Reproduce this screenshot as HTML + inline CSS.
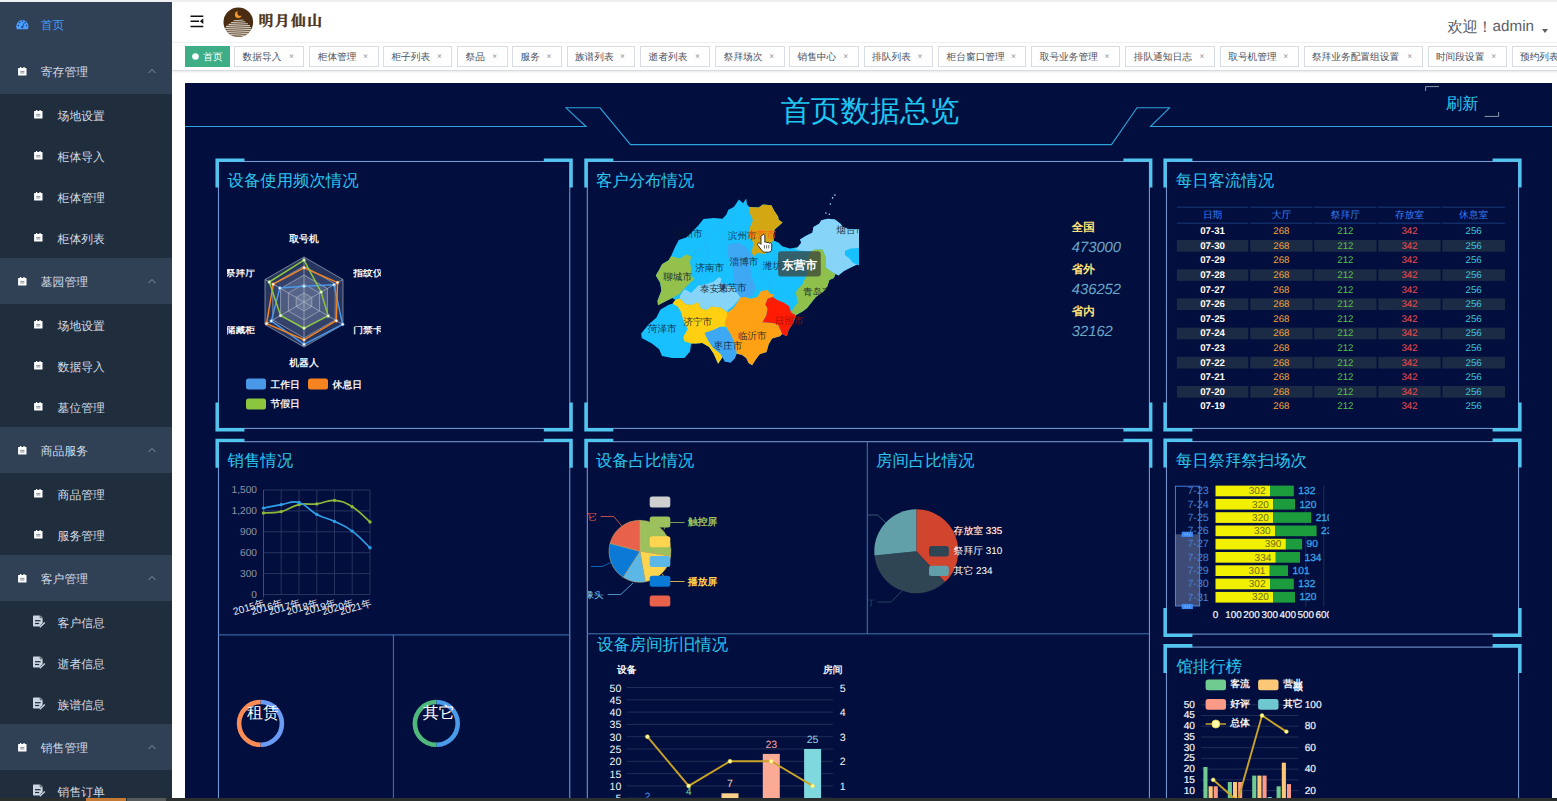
<!DOCTYPE html><html><head><meta charset="utf-8"><title>首页数据总览</title><style>
*{box-sizing:border-box;margin:0;padding:0}
html,body{text-rendering:geometricPrecision;width:1557px;height:801px;overflow:hidden;background:#fff;font-family:"Liberation Sans",sans-serif;}
#root{position:relative;width:1557px;height:801px;overflow:hidden;background:#fff}
.abs{position:absolute;white-space:nowrap;overflow:visible}
.sb{position:absolute;left:0;top:1.5px;width:172.3px;height:797px;background:#304156;overflow:hidden}
.sbi{position:absolute;left:0;width:172.3px;color:#d3dbe6;font-size:11.8px;white-space:nowrap}
.sbi span{position:absolute;top:50%;transform:translateY(-50%);line-height:1;margin-top:2.4px}
.sub{background:#1f2d3d}
.tag{position:absolute;top:46px;height:21px;border:1px solid #d8dce5;background:#fff;color:#495060;font-size:9.7px;line-height:21.4px;padding-left:7.3px;white-space:nowrap;overflow:hidden}
.tag i{position:absolute;right:9.6px;top:-0.6px;font-style:normal;color:#8d929c;font-size:8.4px}
.ttl{position:absolute;color:#2cc6ee;font-size:16.2px;line-height:1;white-space:nowrap}
.lbl{position:absolute;white-space:nowrap;line-height:1}
svg text{font-family:"Liberation Sans",sans-serif}
</style></head><body><div id="root">
<div class="abs" style="left:0;top:0;width:1557px;height:1.5px;background:#eeeff0"></div>
<div class="sb">
<div class="sbi" style="top:0.6px;height:45.7px;color:#409eff">
<svg class="abs" style="left:16.0px;top:17.1px" width="13" height="11" viewBox="0 0 13 11"><path d="M0.2 7.6a6.1 6.6 0 0 1 12.3 0c0 1-0.3 1.9-0.7 2.6h-10.9c-0.4-0.7-0.7-1.6-0.7-2.6z" fill="#4a9dfb"/><circle cx="2.3" cy="6.6" r="0.75" fill="#14438a"/><circle cx="3.6" cy="3.5" r="0.75" fill="#14438a"/><circle cx="6.4" cy="2.3" r="0.75" fill="#14438a"/><circle cx="9.3" cy="3.6" r="0.75" fill="#14438a"/><circle cx="10.5" cy="6.6" r="0.75" fill="#14438a"/><path d="M6.3 8.6l1.9-4.6" stroke="#14438a" stroke-width="0.9"/><circle cx="6.3" cy="8.1" r="1.1" fill="#14438a"/></svg>
<span style="left:40.8px;margin-top:1.3px">首页</span>
</div>
<div class="sbi" style="top:46.3px;height:45.7px;color:#d3dbe6">
<svg class="abs" style="left:17.7px;top:19.2px" width="9" height="9" viewBox="0 0 9 9"><path d="M0.4 0.9h1.6v-0.9h1.3v0.9h2.1v-0.9h1.3v0.9h1.5a0.3 0.3 0 0 1 0.3 0.3v7a0.3 0.3 0 0 1-0.3 0.3h-7.8a0.3 0.3 0 0 1-0.3-0.3v-7a0.3 0.3 0 0 1 0.3-0.3z" fill="#fff"/><rect x="2.2" y="3.9" width="4.2" height="0.9" fill="#7d8794"/><rect x="2.2" y="5.5" width="4.2" height="0.9" fill="#7d8794"/></svg>
<span style="left:40.8px;margin-top:2.6px">寄存管理</span>
<svg class="abs" style="left:147.5px;top:20.4px" width="8" height="6" viewBox="0 0 8 6"><path d="M0.6 5l3.4-3.6l3.4 3.6" fill="none" stroke="#8d99a9" stroke-width="0.9"/></svg>
</div>
<div class="sbi sub" style="top:92.0px;height:41.7px;color:#d3dbe6">
<svg class="abs" style="left:33.9px;top:16.2px" width="9" height="9" viewBox="0 0 9 9"><path d="M0.4 0.9h1.6v-0.9h1.3v0.9h2.1v-0.9h1.3v0.9h1.5a0.3 0.3 0 0 1 0.3 0.3v7a0.3 0.3 0 0 1-0.3 0.3h-7.8a0.3 0.3 0 0 1-0.3-0.3v-7a0.3 0.3 0 0 1 0.3-0.3z" fill="#fff"/><rect x="2.2" y="3.9" width="4.2" height="0.9" fill="#7d8794"/><rect x="2.2" y="5.5" width="4.2" height="0.9" fill="#7d8794"/></svg>
<span style="left:57.6px">场地设置</span>
</div>
<div class="sbi sub" style="top:133.1px;height:41.7px;color:#d3dbe6">
<svg class="abs" style="left:33.9px;top:16.2px" width="9" height="9" viewBox="0 0 9 9"><path d="M0.4 0.9h1.6v-0.9h1.3v0.9h2.1v-0.9h1.3v0.9h1.5a0.3 0.3 0 0 1 0.3 0.3v7a0.3 0.3 0 0 1-0.3 0.3h-7.8a0.3 0.3 0 0 1-0.3-0.3v-7a0.3 0.3 0 0 1 0.3-0.3z" fill="#fff"/><rect x="2.2" y="3.9" width="4.2" height="0.9" fill="#7d8794"/><rect x="2.2" y="5.5" width="4.2" height="0.9" fill="#7d8794"/></svg>
<span style="left:57.6px">柜体导入</span>
</div>
<div class="sbi sub" style="top:174.2px;height:41.7px;color:#d3dbe6">
<svg class="abs" style="left:33.9px;top:16.2px" width="9" height="9" viewBox="0 0 9 9"><path d="M0.4 0.9h1.6v-0.9h1.3v0.9h2.1v-0.9h1.3v0.9h1.5a0.3 0.3 0 0 1 0.3 0.3v7a0.3 0.3 0 0 1-0.3 0.3h-7.8a0.3 0.3 0 0 1-0.3-0.3v-7a0.3 0.3 0 0 1 0.3-0.3z" fill="#fff"/><rect x="2.2" y="3.9" width="4.2" height="0.9" fill="#7d8794"/><rect x="2.2" y="5.5" width="4.2" height="0.9" fill="#7d8794"/></svg>
<span style="left:57.6px">柜体管理</span>
</div>
<div class="sbi sub" style="top:215.3px;height:41.7px;color:#d3dbe6">
<svg class="abs" style="left:33.9px;top:16.2px" width="9" height="9" viewBox="0 0 9 9"><path d="M0.4 0.9h1.6v-0.9h1.3v0.9h2.1v-0.9h1.3v0.9h1.5a0.3 0.3 0 0 1 0.3 0.3v7a0.3 0.3 0 0 1-0.3 0.3h-7.8a0.3 0.3 0 0 1-0.3-0.3v-7a0.3 0.3 0 0 1 0.3-0.3z" fill="#fff"/><rect x="2.2" y="3.9" width="4.2" height="0.9" fill="#7d8794"/><rect x="2.2" y="5.5" width="4.2" height="0.9" fill="#7d8794"/></svg>
<span style="left:57.6px">柜体列表</span>
</div>
<div class="sbi" style="top:256.4px;height:45.7px;color:#d3dbe6">
<svg class="abs" style="left:17.7px;top:19.2px" width="9" height="9" viewBox="0 0 9 9"><path d="M0.4 0.9h1.6v-0.9h1.3v0.9h2.1v-0.9h1.3v0.9h1.5a0.3 0.3 0 0 1 0.3 0.3v7a0.3 0.3 0 0 1-0.3 0.3h-7.8a0.3 0.3 0 0 1-0.3-0.3v-7a0.3 0.3 0 0 1 0.3-0.3z" fill="#fff"/><rect x="2.2" y="3.9" width="4.2" height="0.9" fill="#7d8794"/><rect x="2.2" y="5.5" width="4.2" height="0.9" fill="#7d8794"/></svg>
<span style="left:40.8px;margin-top:2.6px">墓园管理</span>
<svg class="abs" style="left:147.5px;top:20.4px" width="8" height="6" viewBox="0 0 8 6"><path d="M0.6 5l3.4-3.6l3.4 3.6" fill="none" stroke="#8d99a9" stroke-width="0.9"/></svg>
</div>
<div class="sbi sub" style="top:302.1px;height:41.7px;color:#d3dbe6">
<svg class="abs" style="left:33.9px;top:16.2px" width="9" height="9" viewBox="0 0 9 9"><path d="M0.4 0.9h1.6v-0.9h1.3v0.9h2.1v-0.9h1.3v0.9h1.5a0.3 0.3 0 0 1 0.3 0.3v7a0.3 0.3 0 0 1-0.3 0.3h-7.8a0.3 0.3 0 0 1-0.3-0.3v-7a0.3 0.3 0 0 1 0.3-0.3z" fill="#fff"/><rect x="2.2" y="3.9" width="4.2" height="0.9" fill="#7d8794"/><rect x="2.2" y="5.5" width="4.2" height="0.9" fill="#7d8794"/></svg>
<span style="left:57.6px">场地设置</span>
</div>
<div class="sbi sub" style="top:343.2px;height:41.7px;color:#d3dbe6">
<svg class="abs" style="left:33.9px;top:16.2px" width="9" height="9" viewBox="0 0 9 9"><path d="M0.4 0.9h1.6v-0.9h1.3v0.9h2.1v-0.9h1.3v0.9h1.5a0.3 0.3 0 0 1 0.3 0.3v7a0.3 0.3 0 0 1-0.3 0.3h-7.8a0.3 0.3 0 0 1-0.3-0.3v-7a0.3 0.3 0 0 1 0.3-0.3z" fill="#fff"/><rect x="2.2" y="3.9" width="4.2" height="0.9" fill="#7d8794"/><rect x="2.2" y="5.5" width="4.2" height="0.9" fill="#7d8794"/></svg>
<span style="left:57.6px">数据导入</span>
</div>
<div class="sbi sub" style="top:384.3px;height:41.7px;color:#d3dbe6">
<svg class="abs" style="left:33.9px;top:16.2px" width="9" height="9" viewBox="0 0 9 9"><path d="M0.4 0.9h1.6v-0.9h1.3v0.9h2.1v-0.9h1.3v0.9h1.5a0.3 0.3 0 0 1 0.3 0.3v7a0.3 0.3 0 0 1-0.3 0.3h-7.8a0.3 0.3 0 0 1-0.3-0.3v-7a0.3 0.3 0 0 1 0.3-0.3z" fill="#fff"/><rect x="2.2" y="3.9" width="4.2" height="0.9" fill="#7d8794"/><rect x="2.2" y="5.5" width="4.2" height="0.9" fill="#7d8794"/></svg>
<span style="left:57.6px">墓位管理</span>
</div>
<div class="sbi" style="top:425.4px;height:45.7px;color:#d3dbe6">
<svg class="abs" style="left:17.7px;top:19.2px" width="9" height="9" viewBox="0 0 9 9"><path d="M0.4 0.9h1.6v-0.9h1.3v0.9h2.1v-0.9h1.3v0.9h1.5a0.3 0.3 0 0 1 0.3 0.3v7a0.3 0.3 0 0 1-0.3 0.3h-7.8a0.3 0.3 0 0 1-0.3-0.3v-7a0.3 0.3 0 0 1 0.3-0.3z" fill="#fff"/><rect x="2.2" y="3.9" width="4.2" height="0.9" fill="#7d8794"/><rect x="2.2" y="5.5" width="4.2" height="0.9" fill="#7d8794"/></svg>
<span style="left:40.8px;margin-top:2.6px">商品服务</span>
<svg class="abs" style="left:147.5px;top:20.4px" width="8" height="6" viewBox="0 0 8 6"><path d="M0.6 5l3.4-3.6l3.4 3.6" fill="none" stroke="#8d99a9" stroke-width="0.9"/></svg>
</div>
<div class="sbi sub" style="top:471.1px;height:41.7px;color:#d3dbe6">
<svg class="abs" style="left:33.9px;top:16.2px" width="9" height="9" viewBox="0 0 9 9"><path d="M0.4 0.9h1.6v-0.9h1.3v0.9h2.1v-0.9h1.3v0.9h1.5a0.3 0.3 0 0 1 0.3 0.3v7a0.3 0.3 0 0 1-0.3 0.3h-7.8a0.3 0.3 0 0 1-0.3-0.3v-7a0.3 0.3 0 0 1 0.3-0.3z" fill="#fff"/><rect x="2.2" y="3.9" width="4.2" height="0.9" fill="#7d8794"/><rect x="2.2" y="5.5" width="4.2" height="0.9" fill="#7d8794"/></svg>
<span style="left:57.6px">商品管理</span>
</div>
<div class="sbi sub" style="top:512.2px;height:41.7px;color:#d3dbe6">
<svg class="abs" style="left:33.9px;top:16.2px" width="9" height="9" viewBox="0 0 9 9"><path d="M0.4 0.9h1.6v-0.9h1.3v0.9h2.1v-0.9h1.3v0.9h1.5a0.3 0.3 0 0 1 0.3 0.3v7a0.3 0.3 0 0 1-0.3 0.3h-7.8a0.3 0.3 0 0 1-0.3-0.3v-7a0.3 0.3 0 0 1 0.3-0.3z" fill="#fff"/><rect x="2.2" y="3.9" width="4.2" height="0.9" fill="#7d8794"/><rect x="2.2" y="5.5" width="4.2" height="0.9" fill="#7d8794"/></svg>
<span style="left:57.6px">服务管理</span>
</div>
<div class="sbi" style="top:553.3px;height:45.7px;color:#d3dbe6">
<svg class="abs" style="left:17.7px;top:19.2px" width="9" height="9" viewBox="0 0 9 9"><path d="M0.4 0.9h1.6v-0.9h1.3v0.9h2.1v-0.9h1.3v0.9h1.5a0.3 0.3 0 0 1 0.3 0.3v7a0.3 0.3 0 0 1-0.3 0.3h-7.8a0.3 0.3 0 0 1-0.3-0.3v-7a0.3 0.3 0 0 1 0.3-0.3z" fill="#fff"/><rect x="2.2" y="3.9" width="4.2" height="0.9" fill="#7d8794"/><rect x="2.2" y="5.5" width="4.2" height="0.9" fill="#7d8794"/></svg>
<span style="left:40.8px;margin-top:2.6px">客户管理</span>
<svg class="abs" style="left:147.5px;top:20.4px" width="8" height="6" viewBox="0 0 8 6"><path d="M0.6 5l3.4-3.6l3.4 3.6" fill="none" stroke="#8d99a9" stroke-width="0.9"/></svg>
</div>
<div class="sbi sub" style="top:599.0px;height:41.7px;color:#d3dbe6">
<svg class="abs" style="left:32.8px;top:14.4px" width="13" height="13" viewBox="0 0 13 13"><path d="M0.6 0.4h6.6l2.4 2.2v5.2l-3.2 3.6h-5.8a0.6 0.6 0 0 1-0.6-0.6v-9.8a0.6 0.6 0 0 1 0.6-0.6z" fill="#ccd6e2"/><rect x="2" y="5.1" width="5.6" height="1.2" fill="#1f2d3d"/><rect x="2" y="7.9" width="4.2" height="1.2" fill="#1f2d3d"/><path d="M7.2 0.4v2.4h2.4" fill="none" stroke="#1f2d3d" stroke-width="0.7"/><path d="M6.8 12.3l5-4.8" stroke="#ccd6e2" stroke-width="1.4" fill="none"/></svg>
<span style="left:57.6px">客户信息</span>
</div>
<div class="sbi sub" style="top:640.1px;height:41.7px;color:#d3dbe6">
<svg class="abs" style="left:32.8px;top:14.4px" width="13" height="13" viewBox="0 0 13 13"><path d="M0.6 0.4h6.6l2.4 2.2v5.2l-3.2 3.6h-5.8a0.6 0.6 0 0 1-0.6-0.6v-9.8a0.6 0.6 0 0 1 0.6-0.6z" fill="#ccd6e2"/><rect x="2" y="5.1" width="5.6" height="1.2" fill="#1f2d3d"/><rect x="2" y="7.9" width="4.2" height="1.2" fill="#1f2d3d"/><path d="M7.2 0.4v2.4h2.4" fill="none" stroke="#1f2d3d" stroke-width="0.7"/><path d="M6.8 12.3l5-4.8" stroke="#ccd6e2" stroke-width="1.4" fill="none"/></svg>
<span style="left:57.6px">逝者信息</span>
</div>
<div class="sbi sub" style="top:681.2px;height:41.7px;color:#d3dbe6">
<svg class="abs" style="left:32.8px;top:14.4px" width="13" height="13" viewBox="0 0 13 13"><path d="M0.6 0.4h6.6l2.4 2.2v5.2l-3.2 3.6h-5.8a0.6 0.6 0 0 1-0.6-0.6v-9.8a0.6 0.6 0 0 1 0.6-0.6z" fill="#ccd6e2"/><rect x="2" y="5.1" width="5.6" height="1.2" fill="#1f2d3d"/><rect x="2" y="7.9" width="4.2" height="1.2" fill="#1f2d3d"/><path d="M7.2 0.4v2.4h2.4" fill="none" stroke="#1f2d3d" stroke-width="0.7"/><path d="M6.8 12.3l5-4.8" stroke="#ccd6e2" stroke-width="1.4" fill="none"/></svg>
<span style="left:57.6px">族谱信息</span>
</div>
<div class="sbi" style="top:722.3px;height:45.7px;color:#d3dbe6">
<svg class="abs" style="left:17.7px;top:19.2px" width="9" height="9" viewBox="0 0 9 9"><path d="M0.4 0.9h1.6v-0.9h1.3v0.9h2.1v-0.9h1.3v0.9h1.5a0.3 0.3 0 0 1 0.3 0.3v7a0.3 0.3 0 0 1-0.3 0.3h-7.8a0.3 0.3 0 0 1-0.3-0.3v-7a0.3 0.3 0 0 1 0.3-0.3z" fill="#fff"/><rect x="2.2" y="3.9" width="4.2" height="0.9" fill="#7d8794"/><rect x="2.2" y="5.5" width="4.2" height="0.9" fill="#7d8794"/></svg>
<span style="left:40.8px;margin-top:2.6px">销售管理</span>
<svg class="abs" style="left:147.5px;top:20.4px" width="8" height="6" viewBox="0 0 8 6"><path d="M0.6 5l3.4-3.6l3.4 3.6" fill="none" stroke="#8d99a9" stroke-width="0.9"/></svg>
</div>
<div class="sbi sub" style="top:768.0px;height:41.7px;color:#d3dbe6">
<svg class="abs" style="left:32.8px;top:14.4px" width="13" height="13" viewBox="0 0 13 13"><path d="M0.6 0.4h6.6l2.4 2.2v5.2l-3.2 3.6h-5.8a0.6 0.6 0 0 1-0.6-0.6v-9.8a0.6 0.6 0 0 1 0.6-0.6z" fill="#ccd6e2"/><rect x="2" y="5.1" width="5.6" height="1.2" fill="#1f2d3d"/><rect x="2" y="7.9" width="4.2" height="1.2" fill="#1f2d3d"/><path d="M7.2 0.4v2.4h2.4" fill="none" stroke="#1f2d3d" stroke-width="0.7"/><path d="M6.8 12.3l5-4.8" stroke="#ccd6e2" stroke-width="1.4" fill="none"/></svg>
<span style="left:57.6px">销售订单</span>
</div>
</div>
<div class="abs" style="left:172.3px;top:1.5px;width:1384.7px;height:40.8px;background:#fff"></div>
<div class="abs" style="left:172.3px;top:42.2px;width:1384.7px;height:29.2px;background:#fff;border-top:1px solid #eef0f3;border-bottom:1px solid #d8dce5;box-shadow:0 1px 2px rgba(0,0,0,.10)"></div>
<svg class="abs" style="left:189.5px;top:14.5px" width="14" height="13" viewBox="0 0 14 13"><path d="M0.5 1.2h12.8M0.5 6.3h8.6M0.5 11.4h12.8" stroke="#111" stroke-width="1.5" fill="none"/><path d="M13.3 3.6v5.4l-3.4-2.7z" fill="#111"/></svg>
<svg class="abs" style="left:222px;top:5.5px" width="104" height="33" viewBox="0 0 104 33"><defs><clipPath id="lc"><circle cx="16.3" cy="16.2" r="14.8"/></clipPath></defs><circle cx="16.3" cy="16.2" r="14.8" fill="#4a2c12"/><g clip-path="url(#lc)" stroke="#d9d2c6" stroke-linecap="round" fill="none"><path d="M12 14.700000000000001L21 14.1" stroke-width="0.9"/><path d="M9.5 16.5L23 15.899999999999999" stroke-width="1.0"/><path d="M7 18.400000000000002L25.5 17.8" stroke-width="1.1"/><path d="M4.5 20.3L27.5 19.7" stroke-width="1.2"/><path d="M3 22.3L28.5 21.7" stroke-width="1.2"/><path d="M3 24.3L28.5 23.7" stroke-width="1.3"/><path d="M4 26.3L28 25.7" stroke-width="1.3"/><path d="M6 28.3L26.5 27.7" stroke-width="1.2"/><path d="M9 30.2L23 29.599999999999998" stroke-width="1.0"/></g><path d="M19.59 9.54A3.4 3.4 0 1 1 15.83 5.33A2.9 2.9 0 0 0 19.59 9.54z" fill="#f39a2c"/><text x="36.6" y="20.4" font-size="14.8" fill="#4b3522" stroke="#4b3522" stroke-width="0.4" letter-spacing="1.4" style="font-family:'Liberation Serif','Noto Serif CJK SC',serif;font-weight:bold">明月仙山</text></svg>
<div class="lbl" style="left:1447.6px;top:19.6px;font-size:15.4px;letter-spacing:-0.6px;color:#5a5e66;font-family:&quot;Liberation Serif&quot;,serif">欢迎！</div>
<div class="lbl" style="left:1492.6px;top:19.4px;font-size:15.2px;color:#5a5e66">admin</div>
<svg class="abs" style="left:1541.5px;top:29px" width="6" height="4" viewBox="0 0 6 4"><path d="M0 0h6l-3 4z" fill="#5a5e66"/></svg>
<div class="tag" style="left:185px;width:45px;background:#3eae86;border-color:#3eae86;color:#fff;padding-left:17.2px">首页<svg class="abs" style="left:5.6px;top:6.2px" width="7" height="7"><circle cx="3.5" cy="3.5" r="3.3" fill="#fff"/></svg></div>
<div class="tag" style="left:234.3px;width:70.2px">数据导入<i>×</i></div>
<div class="tag" style="left:309.4px;width:69.2px">柜体管理<i>×</i></div>
<div class="tag" style="left:383.1px;width:69.3px">柜子列表<i>×</i></div>
<div class="tag" style="left:457.3px;width:50.4px">祭品<i>×</i></div>
<div class="tag" style="left:512.2px;width:49.9px">服务<i>×</i></div>
<div class="tag" style="left:566.6px;width:68.9px">族谱列表<i>×</i></div>
<div class="tag" style="left:640.3px;width:70.2px">逝者列表<i>×</i></div>
<div class="tag" style="left:715.4px;width:69.3px">祭拜场次<i>×</i></div>
<div class="tag" style="left:789.2px;width:69.6px">销售中心<i>×</i></div>
<div class="tag" style="left:863.8px;width:69.2px">排队列表<i>×</i></div>
<div class="tag" style="left:938.3px;width:88.2px">柜台窗口管理<i>×</i></div>
<div class="tag" style="left:1031.4px;width:88.6px">取号业务管理<i>×</i></div>
<div class="tag" style="left:1125.4px;width:89.6px">排队通知日志<i>×</i></div>
<div class="tag" style="left:1219.9px;width:78.8px">取号机管理<i>×</i></div>
<div class="tag" style="left:1303.6px;width:119.1px">祭拜业务配置组设置<i>×</i></div>
<div class="tag" style="left:1427.6px;width:79.2px">时间段设置<i>×</i></div>
<div class="tag" style="left:1511.7px;width:69.3px">预约列表<i>×</i></div>
<div class="abs" style="left:185px;top:83px;width:1367px;height:715px;background:#020f3e"></div>
<svg class="abs" style="left:0;top:0" width="1557" height="801" viewBox="0 0 1557 801">
<path d="M185 126.5H586L566 107.8H600L630.5 144.6H1111.5L1137 107.8H1169.5L1150.5 126.5H1552" fill="none" stroke="#2fa3dc" stroke-width="1.1"/>
<path d="M1425.6 91V86.6H1439" fill="none" stroke="#8a97a8" stroke-width="1"/><path d="M1484.5 116.4H1498.6V112" fill="none" stroke="#8a97a8" stroke-width="1"/>
<rect x="218.45" y="161.45" width="351.34999999999997" height="266.95" fill="none" stroke="#7aa2de" stroke-width="1"/>
<path d="M215.45 158.45h29v3.4h-25.6v25.6h-3.4z" fill="#52c5ef"/>
<path d="M572.8 158.45h-29v3.4h25.6v25.6h3.4z" fill="#52c5ef"/>
<path d="M215.45 431.4h29v-3.4h-25.6v-25.6h-3.4z" fill="#52c5ef"/>
<path d="M572.8 431.4h-29v-3.4h25.6v-25.6h3.4z" fill="#52c5ef"/>
<rect x="587.3" y="161.45" width="562.1000000000001" height="266.95" fill="none" stroke="#7aa2de" stroke-width="1"/>
<path d="M584.3 158.45h29v3.4h-25.6v25.6h-3.4z" fill="#52c5ef"/>
<path d="M1152.4 158.45h-29v3.4h25.6v25.6h3.4z" fill="#52c5ef"/>
<path d="M584.3 431.4h29v-3.4h-25.6v-25.6h-3.4z" fill="#52c5ef"/>
<path d="M1152.4 431.4h-29v-3.4h25.6v-25.6h3.4z" fill="#52c5ef"/>
<rect x="1166.4" y="161.45" width="352.1999999999998" height="266.95" fill="none" stroke="#7aa2de" stroke-width="1"/>
<path d="M1163.4 158.45h29v3.4h-25.6v25.6h-3.4z" fill="#52c5ef"/>
<path d="M1521.6 158.45h-29v3.4h25.6v25.6h3.4z" fill="#52c5ef"/>
<path d="M1163.4 431.4h29v-3.4h-25.6v-25.6h-3.4z" fill="#52c5ef"/>
<path d="M1521.6 431.4h-29v-3.4h25.6v-25.6h3.4z" fill="#52c5ef"/>
<rect x="218.45" y="441.7" width="351.34999999999997" height="398.3" fill="none" stroke="#7aa2de" stroke-width="1"/>
<path d="M215.45 438.7h29v3.4h-25.6v25.6h-3.4z" fill="#52c5ef"/>
<path d="M572.8 438.7h-29v3.4h25.6v25.6h3.4z" fill="#52c5ef"/>
<rect x="587.3" y="441.7" width="562.1000000000001" height="398.3" fill="none" stroke="#7aa2de" stroke-width="1"/>
<path d="M584.3 438.7h29v3.4h-25.6v25.6h-3.4z" fill="#52c5ef"/>
<path d="M1152.4 438.7h-29v3.4h25.6v25.6h3.4z" fill="#52c5ef"/>
<rect x="1166.4" y="441.6" width="352.1999999999998" height="192.5" fill="none" stroke="#7aa2de" stroke-width="1"/>
<path d="M1163.4 438.6h29v3.4h-25.6v25.6h-3.4z" fill="#52c5ef"/>
<path d="M1521.6 438.6h-29v3.4h25.6v25.6h3.4z" fill="#52c5ef"/>
<path d="M1163.4 637.1h29v-3.4h-25.6v-25.6h-3.4z" fill="#52c5ef"/>
<path d="M1521.6 637.1h-29v-3.4h25.6v-25.6h3.4z" fill="#52c5ef"/>
<rect x="1166.4" y="647.1" width="352.1999999999998" height="192.89999999999998" fill="none" stroke="#7aa2de" stroke-width="1"/>
<path d="M1163.4 644.1h29v3.4h-25.6v25.6h-3.4z" fill="#52c5ef"/>
<path d="M1521.6 644.1h-29v3.4h25.6v25.6h3.4z" fill="#52c5ef"/>
<path d="M218.45 634.9H569.8M393.4 634.9V801" stroke="#3f77b4" stroke-width="1" fill="none"/>
<path d="M867.3 441.7V633.8M587 633.8H1149.4" stroke="#3f77b4" stroke-width="1" fill="none"/>
<polygon points="304.0,257.0 343.0,279.5 343.0,324.5 304.0,347.0 265.0,324.5 265.0,279.5" fill="rgba(175,185,210,0.22)" stroke="#b9c0cf" stroke-width="0.6"/>
<polygon points="304.0,266.0 335.2,284.0 335.2,320.0 304.0,338.0 272.8,320.0 272.8,284.0" fill="rgba(130,145,180,0.15)" stroke="#b9c0cf" stroke-width="0.6"/>
<polygon points="304.0,275.0 327.4,288.5 327.4,315.5 304.0,329.0 280.6,315.5 280.6,288.5" fill="rgba(175,185,210,0.22)" stroke="#b9c0cf" stroke-width="0.6"/>
<polygon points="304.0,284.0 319.6,293.0 319.6,311.0 304.0,320.0 288.4,311.0 288.4,293.0" fill="rgba(130,145,180,0.15)" stroke="#b9c0cf" stroke-width="0.6"/>
<polygon points="304.0,293.0 311.8,297.5 311.8,306.5 304.0,311.0 296.2,306.5 296.2,297.5" fill="rgba(175,185,210,0.22)" stroke="#b9c0cf" stroke-width="0.6"/>
<path d="M304 302L304.0 257.0" stroke="#b9c0cf" stroke-width="0.6"/>
<path d="M304 302L343.0 279.5" stroke="#b9c0cf" stroke-width="0.6"/>
<path d="M304 302L343.0 324.5" stroke="#b9c0cf" stroke-width="0.6"/>
<path d="M304 302L304.0 347.0" stroke="#b9c0cf" stroke-width="0.6"/>
<path d="M304 302L265.0 324.5" stroke="#b9c0cf" stroke-width="0.6"/>
<path d="M304 302L265.0 279.5" stroke="#b9c0cf" stroke-width="0.6"/>
<polygon points="304.0,286.2 334.0,284.7 342.6,324.3 304.0,344.3 271.3,320.9 279.8,288.1" fill="none" stroke="#4a98e8" stroke-width="1.5" stroke-linejoin="round"/>
<circle cx="304.0" cy="286.2" r="1.5" fill="#f4f6fa" stroke="#4a98e8" stroke-width="0.5"/>
<circle cx="334.0" cy="284.7" r="1.5" fill="#f4f6fa" stroke="#4a98e8" stroke-width="0.5"/>
<circle cx="342.6" cy="324.3" r="1.5" fill="#f4f6fa" stroke="#4a98e8" stroke-width="0.5"/>
<circle cx="304.0" cy="344.3" r="1.5" fill="#f4f6fa" stroke="#4a98e8" stroke-width="0.5"/>
<circle cx="271.3" cy="320.9" r="1.5" fill="#f4f6fa" stroke="#4a98e8" stroke-width="0.5"/>
<circle cx="279.8" cy="288.1" r="1.5" fill="#f4f6fa" stroke="#4a98e8" stroke-width="0.5"/>
<polygon points="304.0,267.8 337.5,282.6 336.3,320.7 304.0,339.8 266.6,323.6 273.2,284.2" fill="none" stroke="#f58420" stroke-width="1.5" stroke-linejoin="round"/>
<circle cx="304.0" cy="267.8" r="1.5" fill="#f4f6fa" stroke="#f58420" stroke-width="0.5"/>
<circle cx="337.5" cy="282.6" r="1.5" fill="#f4f6fa" stroke="#f58420" stroke-width="0.5"/>
<circle cx="336.3" cy="320.7" r="1.5" fill="#f4f6fa" stroke="#f58420" stroke-width="0.5"/>
<circle cx="304.0" cy="339.8" r="1.5" fill="#f4f6fa" stroke="#f58420" stroke-width="0.5"/>
<circle cx="266.6" cy="323.6" r="1.5" fill="#f4f6fa" stroke="#f58420" stroke-width="0.5"/>
<circle cx="273.2" cy="284.2" r="1.5" fill="#f4f6fa" stroke="#f58420" stroke-width="0.5"/>
<polygon points="304.0,260.1 321.1,292.1 328.2,315.9 304.0,328.1 280.6,315.5 269.3,282.0" fill="none" stroke="#8cc63f" stroke-width="1.5" stroke-linejoin="round"/>
<circle cx="304.0" cy="260.1" r="1.5" fill="#f4f6fa" stroke="#8cc63f" stroke-width="0.5"/>
<circle cx="321.1" cy="292.1" r="1.5" fill="#f4f6fa" stroke="#8cc63f" stroke-width="0.5"/>
<circle cx="328.2" cy="315.9" r="1.5" fill="#f4f6fa" stroke="#8cc63f" stroke-width="0.5"/>
<circle cx="304.0" cy="328.1" r="1.5" fill="#f4f6fa" stroke="#8cc63f" stroke-width="0.5"/>
<circle cx="280.6" cy="315.5" r="1.5" fill="#f4f6fa" stroke="#8cc63f" stroke-width="0.5"/>
<circle cx="269.3" cy="282.0" r="1.5" fill="#f4f6fa" stroke="#8cc63f" stroke-width="0.5"/>
<rect x="246" y="378.6" width="20" height="11" rx="2.5" fill="#4a98e8"/>
<rect x="308" y="378.6" width="20" height="11" rx="2.5" fill="#f58420"/>
<rect x="246" y="398.4" width="20" height="11" rx="2.5" fill="#8cc63f"/>
<polygon points="738.9,199.6 743,203.2 746.2,198.4 747,204.5 749.5,206.9 758.5,207.4 763,204.6 771.4,205.2 774.2,210.8 778.1,216.4 778.7,219.8 782.6,222.6 778.7,226 774.8,229.3 773.1,234.9 773.7,240.6 778.7,242.8 782.1,246.2 789.9,248.4 797.8,247.3 801.2,242.8 800.1,239.4 805.7,236.1 812.4,232.7 813.5,227.1 819.2,223.7 821.4,220.3 828.1,218.7 834.9,219.4 840.5,223.7 842.8,227.1 849.5,229.3 859,229.3 859,265.3 857.4,264.2 850.6,267.5 843.9,270.9 838.3,275.4 836.1,272.2 833.9,277.9 829.4,280.1 827.1,286.9 823.8,291.3 815.9,297 811.4,302.6 806.9,308.2 802.4,311.6 796.2,314.9 793.4,322.8 788.9,329.6 786.7,336.3 782.2,334 779.9,336.3 772.1,338.5 768.7,344.2 766.5,352 759.7,354.3 756.3,358.8 752.1,365.2 748.6,362.9 746.2,358.1 741.7,354.8 736.7,353.7 735,358.1 730.5,362.6 724.9,361.5 722.6,357 718.1,363.8 713.7,353.7 709.2,346.9 702.4,343 695.7,343.5 691.2,343.5 690,351.4 684.4,358.1 672.1,358.1 662,355.9 659.2,349.2 651.9,343.5 641.7,337.9 641.2,333.4 648.5,324.4 656.3,317.7 660.3,309.8 668.7,304.8 672.6,303.7 675.4,299.7 672.1,298 664.2,302 658,305.3 657.5,300.8 661.4,290.7 660.3,282.9 655.8,275.4 659.2,269.8 662,264.2 668.7,260.2 671,256.3 675.4,246.2 678.8,240 686.7,237.2 688.9,234.9 697.9,226 703.5,219 713.7,218.1 722.6,218.7 726.6,214.2 728.3,209.7 733.9,206.9" fill="#19c0fe"/>
<path d="M722.6 218.7L716 229L708 236L706 246L709 254L704 262L706 270L700 278L697.9 285.7M728.4 244.3L722 238L724 230L730 222L733.9 206.9M749.5 212.5L745 222L748.4 234.9M691.2 256.3L697 250L706 246M754 256.3L760 262L762 275L770 285L767.6 289.7" fill="none" stroke="#34a6d6" stroke-width="0.5" opacity="0.55"/>
<polygon points="749.5,206.9 758.5,207.4 763,204.6 771.4,205.2 774.2,210.8 778.1,216.4 778.7,219.8 782.6,222.6 778.7,226 774.8,229.3 773.1,234.9 773.7,240.6 770.8,242.8 769.2,248.4 765.2,254 757.4,252.9 754,256.3 751.7,252.9 753.4,242.8 748.4,234.9 750,227.1 752.9,220.3 749.5,212.5" fill="#d3a714"/>
<polygon points="797.8,247.3 801.2,242.8 800.1,239.4 805.7,236.1 812.4,232.7 813.5,227.1 819.2,223.7 821.4,220.3 828.1,218.7 834.9,219.4 840.5,223.7 842.8,227.1 849.5,229.3 859,229.3 859,265.3 857.4,264.2 850.6,267.5 843.9,270.9 838.3,275.4 834.9,273.7 830.4,270.9 825.9,267.5 825.9,257.4 822.5,249.6 814.7,249.6 811.3,251.2 801.2,250.7 794.4,249" fill="#86d4f8"/>
<polygon points="845,250.7 850.6,248.4 859,247.9 859,265.3 852.9,263 849.5,258.5 845,255.2" fill="#19c0fe"/>
<polygon points="811.3,251.2 814.7,249.6 822.5,249.6 825.9,257.4 825.9,267.5 830.4,270.9 834.9,273.7 836.1,272.2 833.9,277.9 829.4,280.1 827.1,286.9 823.8,291.3 815.9,297 811.4,302.6 806.9,308.2 802.4,311.6 796.2,314.9 791.2,312.7 793.4,308.2 797.9,302.6 795.7,292.5 797.9,289.1 802.4,284.6 804.7,279 808,273.4 806,265 808,258" fill="#8fc04b"/>
<polygon points="671,256.3 680,258.5 686.1,254.6 691.2,256.3 690,261.9 691.2,268.7 690.6,275.4 694.6,278.9 691.2,281.7 684.4,288.5 679.4,294.1 672.1,298 664.2,302 658,305.3 657.5,300.8 661.4,290.7 660.3,282.9 655.8,275.4 659.2,269.8 662,264.2 668.7,260.2" fill="#93c14c"/>
<polygon points="679.9,295.8 684.4,289.6 687.8,290.7 691.2,293 694.6,289.6 697.9,285.7 706.9,284 713.7,281.7 718.7,277.2 721.5,278.4 720.4,282.9 727,284 733,287 740.6,297.5 733.9,305.3 728.3,309.8 727.1,312.1 720.4,307.6 711.4,306.5 706.9,309.8 701.3,308.7 697.9,302 692.3,304.8 685.6,304.2 679.9,298.6" fill="#86d4f8"/>
<polygon points="728.4,244.3 730.5,243.9 739.5,242.8 745.1,246.2 750.7,252.9 753,257.4 750,263 751,275 755.7,287 753.3,295.3 746.2,297.6 740.6,297.5 736,291 733,285 734.3,277.5 732,265.6 727.2,253.8" fill="#3fa8f4"/>
<polygon points="675.4,299.7 679.9,298.6 685.6,304.2 692.3,304.8 697.9,302 701.3,308.7 706.9,309.8 711.4,306.5 720.4,307.6 727.1,312.1 728.3,316.6 724.9,322.2 726,326.7 720.4,326.7 713.7,330.1 704.7,332.9 708,340.2 712.5,346.9 720.4,353.7 722.6,357 718.1,363.8 713.7,353.7 709.2,346.9 702.4,343 695.7,343.5 691.2,343.5 684.4,341.3 683.3,336.8 687.8,328.9 683.3,319.9 681.1,312.1 677.7,306.5 672.6,303.7" fill="#ffd012"/>
<polygon points="704.7,332.9 713.7,330.1 720.4,326.7 726,328.9 731.6,335.7 733.9,341.3 736.1,349.2 735,358.1 730.5,362.6 724.9,361.5 722.6,357 720.4,353.7 712.5,346.9 708,340.2" fill="#3fa8f4"/>
<polygon points="740.6,297.5 733.9,307.6 728.3,312.1 724.9,322.2 726.6,327.8 731.6,335.7 733.9,341.3 736.1,349.2 736.7,353.7 741.7,354.8 746.2,358.1 748.6,362.9 752.1,365.2 756.3,358.8 759.7,354.3 766.5,352 768.7,344.2 772.1,338.5 779.9,336.3 782.2,334 779.9,328.4 777.7,323.9 771,322.8 762.5,322.2 766.5,314.9 767.6,308.2 765.3,304.8 767.6,298.7 772.6,297 774.3,294.7 769.8,293.6 767.6,289.7 760.8,291.3 757.5,297 750.7,298.7 745.1,297" fill="#ffa114"/>
<polygon points="767.6,298.7 772.6,297 777.7,300.3 783.3,302.6 788.9,306 791.2,312.7 795.7,314.9 793.4,322.8 788.9,329.6 786.7,336.3 782.2,334 779.9,328.4 777.7,323.9 771,322.8 762.5,322.2 766.5,314.9 767.6,308.2 765.3,304.8" fill="#ff1c02"/>
<circle cx="834.9" cy="195.1" r="0.8" fill="#9fdcf7"/>
<circle cx="832.6" cy="197.9" r="0.8" fill="#9fdcf7"/>
<circle cx="830.4" cy="204" r="0.8" fill="#9fdcf7"/>
<circle cx="825.9" cy="213" r="0.8" fill="#9fdcf7"/>
<circle cx="829.3" cy="214.2" r="0.8" fill="#9fdcf7"/>
<defs><clipPath id="mapclip"><rect x="586" y="161" width="273" height="267"/></clipPath></defs>
<g clip-path="url(#mapclip)" font-size="9.6" fill="#08142c" fill-opacity="0.86">
<text x="673.9" y="237.4">德州市</text>
<text x="727.9" y="239.4">滨州市</text>
<text x="695.2" y="270.9">济南市</text>
<text x="729.6" y="264.79999999999995">淄博市</text>
<text x="762.8" y="269.0">潍坊市</text>
<text x="836.3" y="233.4">烟台市</text>
<text x="663.2" y="279.7">聊城市</text>
<text x="700" y="291.59999999999997">泰安市</text>
<text x="717.7" y="290.79999999999995">莱芜市</text>
<text x="803.1" y="295.09999999999997">青岛市</text>
<text x="683.4" y="324.79999999999995">济宁市</text>
<text x="647.8" y="331.9">菏泽市</text>
<text x="737.9" y="339.0">临沂市</text>
<text x="713.5" y="348.5">枣庄市</text>
<text x="774.7" y="323.59999999999997" fill="#9b0d00" fill-opacity="0.9">日照市</text>
<text x="747.4" y="238.20000000000002" fill="#ff5a10" fill-opacity="1">东营市</text>
</g>
<rect x="778.1" y="251.2" width="42.7" height="25.3" rx="3" fill="#3c4038" fill-opacity="0.74"/>
<text x="782" y="269.2" font-size="11.7" font-weight="bold" fill="#fff">东营市</text>
<g transform="translate(757.7 234.6) scale(0.84)"><path d="M5.5 0.8c-0.9 0-1.6 0.7-1.6 1.6v9.3l-1.3-1.3c-0.7-0.7-1.8-0.7-2.4 0c-0.6 0.6-0.6 1.6 0 2.3l4.3 5.6c0.9 1.2 2.2 2.6 4 2.6h4.6c2.3 0 3.6-1.7 3.6-3.9v-5.6c0-0.9-0.7-1.5-1.5-1.5c-0.5 0-1 0.2-1.2 0.6c-0.2-0.8-0.8-1.3-1.6-1.3c-0.6 0-1.1 0.3-1.3 0.8c-0.2-0.8-0.9-1.3-1.6-1.3c-0.4 0-0.8 0.2-1 0.4v-7.7c0-0.9-0.7-1.6-1.6-1.6z" fill="#fff" stroke="#222" stroke-width="1.1" stroke-linejoin="round"/><path d="M8 12.5v4M10.6 12.5v4M13.2 12.5v4" stroke="#222" stroke-width="0.8" fill="none"/></g>
<path d="M263.5 490.0H370" stroke="#303e66" stroke-width="0.8"/>
<path d="M263.5 510.9H370" stroke="#303e66" stroke-width="0.8"/>
<path d="M263.5 531.8H370" stroke="#303e66" stroke-width="0.8"/>
<path d="M263.5 552.7H370" stroke="#303e66" stroke-width="0.8"/>
<path d="M263.5 573.6H370" stroke="#303e66" stroke-width="0.8"/>
<path d="M263.5 594.5H370" stroke="#303e66" stroke-width="0.8"/>
<path d="M263.5 490V594.5" stroke="#303e66" stroke-width="0.8"/>
<path d="M281.2 490V594.5" stroke="#303e66" stroke-width="0.8"/>
<path d="M299.0 490V594.5" stroke="#303e66" stroke-width="0.8"/>
<path d="M316.8 490V594.5" stroke="#303e66" stroke-width="0.8"/>
<path d="M334.5 490V594.5" stroke="#303e66" stroke-width="0.8"/>
<path d="M352.2 490V594.5" stroke="#303e66" stroke-width="0.8"/>
<path d="M370.0 490V594.5" stroke="#303e66" stroke-width="0.8"/>
<path d="M263.5 490V597.5" stroke="#4a5570" stroke-width="0.8"/>
<path d="M263.5 513.0C267.4 512.7 273.4 513.4 281.2 511.6C289.1 509.8 291.2 506.3 299.0 504.6C306.8 502.9 308.9 504.9 316.8 503.9C324.6 503.0 326.7 499.8 334.5 500.4C342.3 501.1 344.4 502.0 352.2 506.7C360.1 511.5 366.1 518.7 370.0 522.0" fill="none" stroke="#8cb83a" stroke-width="1.7"/>
<circle cx="263.5" cy="513.0" r="1.7" fill="#8cb83a"/>
<circle cx="281.2" cy="511.6" r="1.7" fill="#8cb83a"/>
<circle cx="299.0" cy="504.6" r="1.7" fill="#8cb83a"/>
<circle cx="316.8" cy="503.9" r="1.7" fill="#8cb83a"/>
<circle cx="334.5" cy="500.4" r="1.7" fill="#8cb83a"/>
<circle cx="352.2" cy="506.7" r="1.7" fill="#8cb83a"/>
<circle cx="370.0" cy="522.0" r="1.7" fill="#8cb83a"/>
<path d="M263.5 508.1C267.4 507.3 273.4 505.9 281.2 504.6C289.1 503.4 291.2 500.4 299.0 502.5C306.8 504.7 308.9 510.2 316.8 514.4C324.6 518.5 326.7 517.7 334.5 521.4C342.3 525.0 344.4 525.3 352.2 531.1C360.1 536.9 366.1 544.1 370.0 547.8" fill="none" stroke="#2f9ee8" stroke-width="1.7"/>
<circle cx="263.5" cy="508.1" r="1.7" fill="#2f9ee8"/>
<circle cx="281.2" cy="504.6" r="1.7" fill="#2f9ee8"/>
<circle cx="299.0" cy="502.5" r="1.7" fill="#2f9ee8"/>
<circle cx="316.8" cy="514.4" r="1.7" fill="#2f9ee8"/>
<circle cx="334.5" cy="521.4" r="1.7" fill="#2f9ee8"/>
<circle cx="352.2" cy="531.1" r="1.7" fill="#2f9ee8"/>
<circle cx="370.0" cy="547.8" r="1.7" fill="#2f9ee8"/>
<g font-size="10.2" fill="#8e94a6" text-anchor="end">
<text x="257" y="493.4">1,500</text>
<text x="257" y="514.3">1,200</text>
<text x="257" y="535.2">900</text>
<text x="257" y="556.1">600</text>
<text x="257" y="577.0">300</text>
<text x="257" y="597.9">0</text>
</g>
<g font-size="10.2" fill="#e8ecf4" text-anchor="end">
<text transform="translate(264.0 600.0) rotate(-17)" x="0" y="6">2015年</text>
<text transform="translate(281.8 600.0) rotate(-17)" x="0" y="6">2016年</text>
<text transform="translate(299.5 600.0) rotate(-17)" x="0" y="6">2017年</text>
<text transform="translate(317.2 600.0) rotate(-17)" x="0" y="6">2018年</text>
<text transform="translate(335.0 600.0) rotate(-17)" x="0" y="6">2019年</text>
<text transform="translate(352.8 600.0) rotate(-17)" x="0" y="6">2020年</text>
<text transform="translate(370.5 600.0) rotate(-17)" x="0" y="6">2021年</text>
</g>
<path d="M260.5 702.0A21.4 21.4 0 0 1 260.5 744.8" fill="none" stroke="#6a9cf6" stroke-width="4.6"/>
<path d="M260.5 744.8A21.4 21.4 0 0 1 260.5 702.0" fill="none" stroke="#fb8c56" stroke-width="4.6"/>
<path d="M436.3 702.0A21.4 21.4 0 0 1 436.3 744.8" fill="none" stroke="#4a9aea" stroke-width="4.6"/>
<path d="M436.3 744.8A21.4 21.4 0 0 1 436.3 702.0" fill="none" stroke="#4fb87a" stroke-width="4.6"/>
<path d="M640 551.3L640.00 520.30A31 31 0 0 1 670.62 556.15z" fill="#9cc05c" stroke="#c9b36a" stroke-width="0.5"/>
<path d="M640 551.3L670.62 556.15A31 31 0 0 1 645.38 581.83z" fill="#ffd54f" stroke="#c9b36a" stroke-width="0.5"/>
<path d="M640 551.3L645.38 581.83A31 31 0 0 1 623.12 577.30z" fill="#5bb8e6" stroke="#c9b36a" stroke-width="0.5"/>
<path d="M640 551.3L623.12 577.30A31 31 0 0 1 610.06 543.28z" fill="#0a7ad6" stroke="#c9b36a" stroke-width="0.5"/>
<path d="M640 551.3L610.06 543.28A31 31 0 0 1 640.00 520.30z" fill="#e8614a" stroke="#c9b36a" stroke-width="0.5"/>
<path d="M600.7 516.5H613.8L621.7 525.8" fill="none" stroke="#e8614a" stroke-width="0.8"/>
<path d="M591 566.5H602.5L611.2 562.2" fill="none" stroke="#0a7ad6" stroke-width="0.8"/>
<path d="M607.7 594.5H620.8L633 583" fill="none" stroke="#5bb8e6" stroke-width="0.8"/>
<path d="M664 529.5L667 522.5H684.6" fill="none" stroke="#9cc05c" stroke-width="0.8"/>
<path d="M662.5 574L665.5 581.5H684.6" fill="none" stroke="#ffd54f" stroke-width="0.8"/>
<rect x="649.7" y="496.6" width="20.6" height="11" rx="2.5" fill="#cfcfcf"/>
<rect x="649.7" y="516.4" width="20.6" height="11" rx="2.5" fill="#9cc05c"/>
<rect x="649.7" y="536.2" width="20.6" height="11" rx="2.5" fill="#ffd54f"/>
<rect x="649.7" y="555.9" width="20.6" height="11" rx="2.5" fill="#5bb8e6"/>
<rect x="649.7" y="575.7" width="20.6" height="11" rx="2.5" fill="#0a7ad6"/>
<rect x="649.7" y="595.5" width="20.6" height="11" rx="2.5" fill="#e8614a"/>
<path d="M916.3 551.3L916.30 509.30A42 42 0 0 1 944.84 582.12z" fill="#d1452f"/>
<path d="M916.3 551.3L944.84 582.12A42 42 0 0 1 874.52 555.57z" fill="#2f4554"/>
<path d="M916.3 551.3L874.52 555.57A42 42 0 0 1 916.30 509.30z" fill="#61a0a8"/>
<path d="M867.9 515H877.5L885.9 522.8" fill="none" stroke="#3f6c7c" stroke-width="0.8"/>
<path d="M877.5 602H891.1L902 591" fill="none" stroke="#2f4a60" stroke-width="0.8"/>
<rect x="929" y="546" width="19.8" height="10.4" rx="2.5" fill="#2f4554"/>
<rect x="929" y="565.7" width="19.8" height="10.4" rx="2.5" fill="#61a0a8"/>
<path d="M626.8 798.2H833.2" stroke="#26365c" stroke-width="0.8"/>
<path d="M626.8 785.9H833.2" stroke="#26365c" stroke-width="0.8"/>
<path d="M626.8 773.6H833.2" stroke="#26365c" stroke-width="0.8"/>
<path d="M626.8 761.3H833.2" stroke="#26365c" stroke-width="0.8"/>
<path d="M626.8 749.0H833.2" stroke="#26365c" stroke-width="0.8"/>
<path d="M626.8 736.7H833.2" stroke="#26365c" stroke-width="0.8"/>
<path d="M626.8 724.4H833.2" stroke="#26365c" stroke-width="0.8"/>
<path d="M626.8 712.1H833.2" stroke="#26365c" stroke-width="0.8"/>
<path d="M626.8 699.8H833.2" stroke="#26365c" stroke-width="0.8"/>
<path d="M626.8 687.5H833.2" stroke="#26365c" stroke-width="0.8"/>
<rect x="638.9" y="805.6" width="17" height="4.9" fill="#4a90e2"/>
<rect x="680.2" y="800.7" width="17" height="9.8" fill="#6fcf97"/>
<rect x="721.5" y="793.3" width="17" height="17.2" fill="#fdd08c"/>
<rect x="762.8" y="753.9" width="17" height="56.6" fill="#fbaa96"/>
<rect x="804.1" y="749.0" width="17" height="61.5" fill="#7fd8de"/>
<path d="M647.4 736.7 L688.7 785.9 L730.0 761.3 L771.3 761.3 L812.6 785.9" fill="none" stroke="#c9a227" stroke-width="1.9"/>
<circle cx="647.4" cy="736.7" r="2" fill="#ffffa0" stroke="#e8d040" stroke-width="0.5"/>
<circle cx="688.7" cy="785.9" r="2" fill="#ffffa0" stroke="#e8d040" stroke-width="0.5"/>
<circle cx="730.0" cy="761.3" r="2" fill="#ffffa0" stroke="#e8d040" stroke-width="0.5"/>
<circle cx="771.3" cy="761.3" r="2" fill="#ffffa0" stroke="#e8d040" stroke-width="0.5"/>
<circle cx="812.6" cy="785.9" r="2" fill="#ffffa0" stroke="#e8d040" stroke-width="0.5"/>
<g font-size="10.6" fill="#f2f4f8">
<text x="621.3" y="802.2" text-anchor="end">5</text>
<text x="621.3" y="789.9" text-anchor="end">10</text>
<text x="621.3" y="777.6" text-anchor="end">15</text>
<text x="621.3" y="765.3" text-anchor="end">20</text>
<text x="621.3" y="753.0" text-anchor="end">25</text>
<text x="621.3" y="740.7" text-anchor="end">30</text>
<text x="621.3" y="728.4" text-anchor="end">35</text>
<text x="621.3" y="716.1" text-anchor="end">40</text>
<text x="621.3" y="703.8" text-anchor="end">45</text>
<text x="621.3" y="691.5" text-anchor="end">50</text>
<text x="839.7" y="789.9">1</text>
<text x="839.7" y="765.3">2</text>
<text x="839.7" y="740.7">3</text>
<text x="839.7" y="716.1">4</text>
<text x="839.7" y="691.5">5</text>
</g>
<text x="647.4" y="799.6" font-size="10.6" fill="#4a90e2" text-anchor="middle">2</text>
<text x="688.7" y="794.7" font-size="10.6" fill="#6fcf97" text-anchor="middle">4</text>
<text x="730.0" y="787.3" font-size="10.6" fill="#e9dcc6" text-anchor="middle">7</text>
<text x="771.3" y="747.9" font-size="10.6" fill="#f3a0a6" text-anchor="middle">23</text>
<text x="812.6" y="743.0" font-size="10.6" fill="#93cfe6" text-anchor="middle">25</text>
<defs><clipPath id="wclip"><rect x="1170" y="480" width="159" height="150"/></clipPath></defs>
<g clip-path="url(#wclip)">
<path d="M1305.8 486V607M1323.8 486V607" stroke="#2a3a60" stroke-width="0.7"/>
<rect x="1175.4" y="486.2" width="24.3" height="119.8" fill="none" stroke="#4a86ee" stroke-width="0.9"/>
<rect x="1175.4" y="534.3" width="24.3" height="71.7" fill="#8fa0c4" fill-opacity="0.42"/>
<rect x="1181.7" y="531.6999999999999" width="11.2" height="5.2" fill="#3f8af0"/><path d="M1185 533.0v2.6M1187.3 533.0v2.6M1189.6 533.0v2.6" stroke="#9cc0ff" stroke-width="0.6"/>
<rect x="1181.7" y="603.9" width="11.2" height="5.2" fill="#3f8af0"/><path d="M1185 605.2v2.6M1187.3 605.2v2.6M1189.6 605.2v2.6" stroke="#9cc0ff" stroke-width="0.6"/>
<rect x="1215.5" y="485.6" width="54.5" height="10.7" fill="#f0f000"/>
<rect x="1270.0" y="485.6" width="23.8" height="10.7" fill="#1c9c3c"/>
<text x="1208.8" y="494.3" font-size="10.7" fill="#4a80d8" text-anchor="end">7-23</text>
<text x="1265.5" y="494.2" font-size="10" fill="#6f6d1c" text-anchor="end">302</text>
<text x="1298.3" y="494.2" font-size="10.2" fill="#3aa2e6" stroke="#3aa2e6" stroke-width="0.3">132</text>
<rect x="1215.5" y="498.9" width="57.8" height="10.7" fill="#f0f000"/>
<rect x="1273.3" y="498.9" width="21.7" height="10.7" fill="#1c9c3c"/>
<text x="1208.8" y="507.6" font-size="10.7" fill="#4a80d8" text-anchor="end">7-24</text>
<text x="1268.8" y="507.5" font-size="10" fill="#6f6d1c" text-anchor="end">320</text>
<text x="1299.4" y="507.5" font-size="10.2" fill="#3aa2e6" stroke="#3aa2e6" stroke-width="0.3">120</text>
<rect x="1215.5" y="512.2" width="57.8" height="10.7" fill="#f0f000"/>
<rect x="1273.3" y="512.2" width="37.9" height="10.7" fill="#1c9c3c"/>
<text x="1208.8" y="520.9" font-size="10.7" fill="#4a80d8" text-anchor="end">7-25</text>
<text x="1268.8" y="520.8" font-size="10" fill="#6f6d1c" text-anchor="end">320</text>
<text x="1315.7" y="520.8" font-size="10.2" fill="#3aa2e6" stroke="#3aa2e6" stroke-width="0.3">210</text>
<rect x="1215.5" y="525.5" width="59.6" height="10.7" fill="#f0f000"/>
<rect x="1275.1" y="525.5" width="41.5" height="10.7" fill="#1c9c3c"/>
<text x="1208.8" y="534.1" font-size="10.7" fill="#4a80d8" text-anchor="end">7-26</text>
<text x="1270.6" y="534.0" font-size="10" fill="#6f6d1c" text-anchor="end">330</text>
<text x="1321.1" y="534.0" font-size="10.2" fill="#3aa2e6" stroke="#3aa2e6" stroke-width="0.3">230</text>
<rect x="1215.5" y="538.8" width="70.4" height="10.7" fill="#f0f000"/>
<rect x="1285.9" y="538.8" width="16.2" height="10.7" fill="#1c9c3c"/>
<text x="1208.8" y="547.4" font-size="10.7" fill="#4a80d8" text-anchor="end">7-27</text>
<text x="1281.4" y="547.3" font-size="10" fill="#6f6d1c" text-anchor="end">390</text>
<text x="1306.6" y="547.3" font-size="10.2" fill="#3aa2e6" stroke="#3aa2e6" stroke-width="0.3">90</text>
<rect x="1215.5" y="552.0" width="60.3" height="10.7" fill="#f0f000"/>
<rect x="1275.8" y="552.0" width="24.2" height="10.7" fill="#1c9c3c"/>
<text x="1208.8" y="560.7" font-size="10.7" fill="#4a80d8" text-anchor="end">7-28</text>
<text x="1271.3" y="560.6" font-size="10" fill="#6f6d1c" text-anchor="end">334</text>
<text x="1304.5" y="560.6" font-size="10.2" fill="#3aa2e6" stroke="#3aa2e6" stroke-width="0.3">134</text>
<rect x="1215.5" y="565.3" width="54.3" height="10.7" fill="#f0f000"/>
<rect x="1269.8" y="565.3" width="18.2" height="10.7" fill="#1c9c3c"/>
<text x="1208.8" y="574.0" font-size="10.7" fill="#4a80d8" text-anchor="end">7-29</text>
<text x="1265.3" y="573.9" font-size="10" fill="#6f6d1c" text-anchor="end">301</text>
<text x="1292.6" y="573.9" font-size="10.2" fill="#3aa2e6" stroke="#3aa2e6" stroke-width="0.3">101</text>
<rect x="1215.5" y="578.6" width="54.5" height="10.7" fill="#f0f000"/>
<rect x="1270.0" y="578.6" width="23.8" height="10.7" fill="#1c9c3c"/>
<text x="1208.8" y="587.3" font-size="10.7" fill="#4a80d8" text-anchor="end">7-30</text>
<text x="1265.5" y="587.2" font-size="10" fill="#6f6d1c" text-anchor="end">302</text>
<text x="1298.3" y="587.2" font-size="10.2" fill="#3aa2e6" stroke="#3aa2e6" stroke-width="0.3">132</text>
<rect x="1215.5" y="591.9" width="57.8" height="10.7" fill="#f0f000"/>
<rect x="1273.3" y="591.9" width="21.7" height="10.7" fill="#1c9c3c"/>
<text x="1208.8" y="600.5" font-size="10.7" fill="#4a80d8" text-anchor="end">7-31</text>
<text x="1268.8" y="600.4" font-size="10" fill="#6f6d1c" text-anchor="end">320</text>
<text x="1299.4" y="600.4" font-size="10.2" fill="#3aa2e6" stroke="#3aa2e6" stroke-width="0.3">120</text>
<g font-size="9.9" fill="#f4f6fa" stroke="#f4f6fa" stroke-width="0.2" text-anchor="middle">
<text x="1215.5" y="617.6">0</text>
<text x="1233.5" y="617.6">100</text>
<text x="1251.6" y="617.6">200</text>
<text x="1269.7" y="617.6">300</text>
<text x="1287.7" y="617.6">400</text>
<text x="1305.8" y="617.6">500</text>
<text x="1323.8" y="617.6">600</text>
</g></g>
<path d="M1201 801.3H1298.6" stroke="#26365c" stroke-width="0.8"/>
<path d="M1201 790.6H1298.6" stroke="#26365c" stroke-width="0.8"/>
<path d="M1201 779.8H1298.6" stroke="#26365c" stroke-width="0.8"/>
<path d="M1201 769.1H1298.6" stroke="#26365c" stroke-width="0.8"/>
<path d="M1201 758.4H1298.6" stroke="#26365c" stroke-width="0.8"/>
<path d="M1201 747.7H1298.6" stroke="#26365c" stroke-width="0.8"/>
<path d="M1201 737.0H1298.6" stroke="#26365c" stroke-width="0.8"/>
<path d="M1201 726.2H1298.6" stroke="#26365c" stroke-width="0.8"/>
<path d="M1201 715.5H1298.6" stroke="#26365c" stroke-width="0.8"/>
<path d="M1201 704.8H1298.6" stroke="#26365c" stroke-width="0.8"/>
<rect x="1203.4" y="767.0" width="4.1" height="45.0" fill="#6fcb8f"/>
<rect x="1208.6" y="786.3" width="4.1" height="25.7" fill="#fcc878"/>
<rect x="1213.7" y="786.3" width="4.1" height="25.7" fill="#fb9a86"/>
<rect x="1227.8" y="782.0" width="4.1" height="30.0" fill="#6fcb8f"/>
<rect x="1233.0" y="782.0" width="4.1" height="30.0" fill="#fcc878"/>
<rect x="1238.1" y="782.0" width="4.1" height="30.0" fill="#fb9a86"/>
<rect x="1252.2" y="775.6" width="4.1" height="36.4" fill="#6fcb8f"/>
<rect x="1257.4" y="775.6" width="4.1" height="36.4" fill="#fcc878"/>
<rect x="1262.5" y="775.6" width="4.1" height="36.4" fill="#fb9a86"/>
<rect x="1267.7" y="797.0" width="4.1" height="15.0" fill="#6fc8d0"/>
<rect x="1276.6" y="786.3" width="4.1" height="25.7" fill="#6fcb8f"/>
<rect x="1281.8" y="762.7" width="4.1" height="49.3" fill="#fcc878"/>
<rect x="1286.9" y="784.1" width="4.1" height="27.9" fill="#fb9a86"/>
<path d="M1213.2 779.8 L1237.6 801.3 L1262.0 715.5 L1286.4 731.6" fill="none" stroke="#c9a227" stroke-width="1.9"/>
<circle cx="1213.2" cy="779.8" r="1.9" fill="#ffffa0" stroke="#e8d040" stroke-width="0.5"/>
<circle cx="1237.6" cy="801.3" r="1.9" fill="#ffffa0" stroke="#e8d040" stroke-width="0.5"/>
<circle cx="1262.0" cy="715.5" r="1.9" fill="#ffffa0" stroke="#e8d040" stroke-width="0.5"/>
<circle cx="1286.4" cy="731.6" r="1.9" fill="#ffffa0" stroke="#e8d040" stroke-width="0.5"/>
<g font-size="10.2" fill="#f2f4f8" stroke="#f2f4f8" stroke-width="0.2">
<text x="1195" y="793.5" text-anchor="end">10</text>
<text x="1195" y="782.7" text-anchor="end">15</text>
<text x="1195" y="772.0" text-anchor="end">20</text>
<text x="1195" y="761.3" text-anchor="end">25</text>
<text x="1195" y="750.6" text-anchor="end">30</text>
<text x="1195" y="739.9" text-anchor="end">35</text>
<text x="1195" y="729.1" text-anchor="end">40</text>
<text x="1195" y="718.4" text-anchor="end">45</text>
<text x="1195" y="707.7" text-anchor="end">50</text>
<text x="1304.7" y="793.5">20</text>
<text x="1304.7" y="772.0">40</text>
<text x="1304.7" y="750.6">60</text>
<text x="1304.7" y="729.1">80</text>
<text x="1304.7" y="707.7">100</text>
</g>
<rect x="1205.6" y="679.4" width="20.4" height="10.8" rx="2.5" fill="#6fcb8f"/>
<rect x="1258.1" y="679.4" width="20.4" height="10.8" rx="2.5" fill="#fcc878"/>
<rect x="1205.6" y="699" width="20.4" height="10.8" rx="2.5" fill="#fb9a86"/>
<rect x="1258.1" y="699" width="20.4" height="10.8" rx="2.5" fill="#6fc8d0"/>
<path d="M1205.6 724H1226" stroke="#c9a227" stroke-width="1.5"/><circle cx="1215.8" cy="724" r="4" fill="#ffffb0" stroke="#e8d040" stroke-width="0.8"/>
<path d="M1176.9 207.2H1248.3M1176.9 223.2H1248.3" stroke="#173a7c" stroke-width="1"/>
<path d="M1250.2 207.2H1312.6M1250.2 223.2H1312.6" stroke="#173a7c" stroke-width="1"/>
<path d="M1314.2 207.2H1376.6M1314.2 223.2H1376.6" stroke="#173a7c" stroke-width="1"/>
<path d="M1378.3 207.2H1440.7M1378.3 223.2H1440.7" stroke="#173a7c" stroke-width="1"/>
<path d="M1442.3 207.2H1505M1442.3 223.2H1505" stroke="#173a7c" stroke-width="1"/>
<rect x="1176.9" y="240.0" width="71.4" height="11.7" fill="#1b2a45"/>
<rect x="1250.2" y="240.0" width="62.4" height="11.7" fill="#1b2a45"/>
<rect x="1314.2" y="240.0" width="62.4" height="11.7" fill="#1b2a45"/>
<rect x="1378.3" y="240.0" width="62.4" height="11.7" fill="#1b2a45"/>
<rect x="1442.3" y="240.0" width="62.7" height="11.7" fill="#1b2a45"/>
<rect x="1176.9" y="269.2" width="71.4" height="11.7" fill="#1b2a45"/>
<rect x="1250.2" y="269.2" width="62.4" height="11.7" fill="#1b2a45"/>
<rect x="1314.2" y="269.2" width="62.4" height="11.7" fill="#1b2a45"/>
<rect x="1378.3" y="269.2" width="62.4" height="11.7" fill="#1b2a45"/>
<rect x="1442.3" y="269.2" width="62.7" height="11.7" fill="#1b2a45"/>
<rect x="1176.9" y="298.4" width="71.4" height="11.7" fill="#1b2a45"/>
<rect x="1250.2" y="298.4" width="62.4" height="11.7" fill="#1b2a45"/>
<rect x="1314.2" y="298.4" width="62.4" height="11.7" fill="#1b2a45"/>
<rect x="1378.3" y="298.4" width="62.4" height="11.7" fill="#1b2a45"/>
<rect x="1442.3" y="298.4" width="62.7" height="11.7" fill="#1b2a45"/>
<rect x="1176.9" y="327.6" width="71.4" height="11.7" fill="#1b2a45"/>
<rect x="1250.2" y="327.6" width="62.4" height="11.7" fill="#1b2a45"/>
<rect x="1314.2" y="327.6" width="62.4" height="11.7" fill="#1b2a45"/>
<rect x="1378.3" y="327.6" width="62.4" height="11.7" fill="#1b2a45"/>
<rect x="1442.3" y="327.6" width="62.7" height="11.7" fill="#1b2a45"/>
<rect x="1176.9" y="356.8" width="71.4" height="11.7" fill="#1b2a45"/>
<rect x="1250.2" y="356.8" width="62.4" height="11.7" fill="#1b2a45"/>
<rect x="1314.2" y="356.8" width="62.4" height="11.7" fill="#1b2a45"/>
<rect x="1378.3" y="356.8" width="62.4" height="11.7" fill="#1b2a45"/>
<rect x="1442.3" y="356.8" width="62.7" height="11.7" fill="#1b2a45"/>
<rect x="1176.9" y="386.0" width="71.4" height="11.7" fill="#1b2a45"/>
<rect x="1250.2" y="386.0" width="62.4" height="11.7" fill="#1b2a45"/>
<rect x="1314.2" y="386.0" width="62.4" height="11.7" fill="#1b2a45"/>
<rect x="1378.3" y="386.0" width="62.4" height="11.7" fill="#1b2a45"/>
<rect x="1442.3" y="386.0" width="62.7" height="11.7" fill="#1b2a45"/>
</svg>
<div class="lbl" style="left:780.8px;top:96.9px;font-size:29.8px;color:#1fc6f0;">首页数据总览</div>
<div class="lbl" style="left:1446px;top:96.0px;font-size:16.2px;color:#2cc6ee;">刷新</div>
<div class="lbl" style="left:227.5px;top:172.8px;font-size:16.4px;color:#2cc6ee;">设备使用频次情况</div>
<div class="lbl" style="left:595.9px;top:172.8px;font-size:16.4px;color:#2cc6ee;">客户分布情况</div>
<div class="lbl" style="left:1175.8px;top:172.8px;font-size:16.4px;color:#2cc6ee;">每日客流情况</div>
<div class="lbl" style="left:227.5px;top:452.8px;font-size:16.4px;color:#2cc6ee;">销售情况</div>
<div class="lbl" style="left:595.9px;top:452.8px;font-size:16.4px;color:#2cc6ee;">设备占比情况</div>
<div class="lbl" style="left:876.1px;top:452.8px;font-size:16.4px;color:#2cc6ee;">房间占比情况</div>
<div class="lbl" style="left:597.0px;top:636.9px;font-size:16.4px;color:#2cc6ee;">设备房间折旧情况</div>
<div class="lbl" style="left:1175.8px;top:452.8px;font-size:16.4px;color:#2cc6ee;">每日祭拜祭扫场次</div>
<div class="lbl" style="left:1176.4px;top:658.7px;font-size:16.4px;color:#2cc6ee;">馆排行榜</div>
<div class="lbl" style="left:204px;width:200px;text-align:center;top:234.9px;font-size:9.8px;color:#f2f4f8;font-weight:bold">取号机</div>
<div class="lbl" style="left:204px;width:200px;text-align:center;top:358.9px;font-size:9.8px;color:#f2f4f8;font-weight:bold">机器人</div>
<div class="lbl" style="left:353.3px;top:268.8px;font-size:9.8px;color:#f2f4f8;font-weight:bold;width:28px;overflow:hidden">指纹仪</div>
<div class="lbl" style="left:353.3px;top:325.8px;font-size:9.8px;color:#f2f4f8;font-weight:bold;width:28px;overflow:hidden">门禁卡</div>
<div class="lbl" style="left:226.5px;width:28.5px;text-align:right;direction:rtl;overflow:hidden;top:268.8px;font-size:9.8px;color:#f2f4f8;font-weight:bold">祭拜厅</div>
<div class="lbl" style="left:226.5px;width:28.5px;text-align:right;direction:rtl;overflow:hidden;top:325.8px;font-size:9.8px;color:#f2f4f8;font-weight:bold">储藏柜</div>
<div class="lbl" style="left:270.5px;top:380.6px;font-size:9.8px;color:#f2f4f8;font-weight:bold">工作日</div>
<div class="lbl" style="left:332.6px;top:380.6px;font-size:9.8px;color:#f2f4f8;font-weight:bold">休息日</div>
<div class="lbl" style="left:270.5px;top:400.4px;font-size:9.8px;color:#f2f4f8;font-weight:bold">节假日</div>
<div class="lbl" style="left:1071.7px;top:222.8px;font-size:11.5px;color:#ffe27a;font-weight:bold">全国</div>
<div class="lbl" style="left:1071.7px;top:240.5px;font-size:14.8px;color:#6aa6c6;font-style:italic">473000</div>
<div class="lbl" style="left:1071.7px;top:264.7px;font-size:11.5px;color:#ffe27a;font-weight:bold">省外</div>
<div class="lbl" style="left:1071.7px;top:282.6px;font-size:14.8px;color:#6aa6c6;font-style:italic">436252</div>
<div class="lbl" style="left:1071.7px;top:306.6px;font-size:11.5px;color:#ffe27a;font-weight:bold">省内</div>
<div class="lbl" style="left:1071.7px;top:324.7px;font-size:14.8px;color:#6aa6c6;font-style:italic">32162</div>
<div class="lbl" style="left:163px;width:200px;text-align:center;top:706.0px;font-size:16px;color:#fff;">租赁</div>
<div class="lbl" style="left:338.8px;width:200px;text-align:center;top:706.0px;font-size:16px;color:#fff;">其它</div>
<div class="lbl" style="left:688px;top:518.1px;font-size:9.8px;color:#9cc05c;font-weight:bold">触控屏</div>
<div class="lbl" style="left:688px;top:577.5px;font-size:9.8px;color:#ffd54f;font-weight:bold">播放屏</div>
<div class="lbl" style="left:587.5px;width:9.5px;overflow:hidden;direction:rtl;top:512.9px;font-size:9.8px;color:#e8614a">其它</div>
<div class="lbl" style="left:587.5px;width:16px;overflow:hidden;direction:rtl;top:590.8px;font-size:9.8px;color:#7cc4ea">摄像头</div>
<div class="lbl" style="left:953.5px;top:527.1px;font-size:9.9px;color:#fff;text-shadow:0 0 1px #d1452f">存放室 335</div>
<div class="lbl" style="left:953.5px;top:546.8px;font-size:9.9px;color:#fff;">祭拜厅 310</div>
<div class="lbl" style="left:953.5px;top:566.8px;font-size:9.9px;color:#fff;">其它 234</div>
<div class="lbl" style="left:868px;width:7px;overflow:hidden;direction:rtl;top:598.0px;font-size:9.8px;color:#2f4a60">祭拜厅</div>
<div class="lbl" style="left:617px;top:665.5px;font-size:9.8px;color:#f2f4f8;font-weight:bold">设备</div>
<div class="lbl" style="left:823px;top:665.5px;font-size:9.8px;color:#f2f4f8;font-weight:bold">房间</div>
<div class="lbl" style="left:1230.3px;top:679.5px;font-size:9.8px;color:#f2f4f8;font-weight:bold">客流</div>
<div class="lbl" style="left:1283.3px;top:679.7px;font-size:9.8px;color:#f2f4f8;font-weight:bold">营业</div>
<div class="lbl" style="left:1293.0px;top:682.5px;font-size:9.8px;color:#f2f4f8;font-weight:bold">额</div>
<div class="lbl" style="left:1230.3px;top:699.5px;font-size:9.8px;color:#f2f4f8;font-weight:bold">好评</div>
<div class="lbl" style="left:1283.3px;top:699.5px;font-size:9.8px;color:#f2f4f8;font-weight:bold">其它</div>
<div class="lbl" style="left:1230.3px;top:718.9px;font-size:9.8px;color:#f2f4f8;font-weight:bold">总体</div>
<div class="lbl" style="left:1112.6px;width:200px;text-align:center;top:211.0px;font-size:9.7px;color:#3a7df0;">日期</div>
<div class="lbl" style="left:1181.4px;width:200px;text-align:center;top:211.0px;font-size:9.7px;color:#3a7df0;">大厅</div>
<div class="lbl" style="left:1245.4px;width:200px;text-align:center;top:211.0px;font-size:9.7px;color:#3a7df0;">祭拜厅</div>
<div class="lbl" style="left:1309.5px;width:200px;text-align:center;top:211.0px;font-size:9.7px;color:#3a7df0;">存放室</div>
<div class="lbl" style="left:1373.65px;width:200px;text-align:center;top:211.0px;font-size:9.7px;color:#3a7df0;">休息室</div>
<div class="lbl" style="left:1112.6px;width:200px;text-align:center;top:227.2px;font-size:9.7px;color:#fff;font-weight:bold">07-31</div>
<div class="lbl" style="left:1181.4px;width:200px;text-align:center;top:227.2px;font-size:9.7px;color:#f2a33a;">268</div>
<div class="lbl" style="left:1245.4px;width:200px;text-align:center;top:227.2px;font-size:9.7px;color:#5dbf4a;">212</div>
<div class="lbl" style="left:1309.5px;width:200px;text-align:center;top:227.2px;font-size:9.7px;color:#f24d4d;">342</div>
<div class="lbl" style="left:1373.65px;width:200px;text-align:center;top:227.2px;font-size:9.7px;color:#43c6d8;">256</div>
<div class="lbl" style="left:1112.6px;width:200px;text-align:center;top:241.8px;font-size:9.7px;color:#fff;font-weight:bold">07-30</div>
<div class="lbl" style="left:1181.4px;width:200px;text-align:center;top:241.8px;font-size:9.7px;color:#f2a33a;">268</div>
<div class="lbl" style="left:1245.4px;width:200px;text-align:center;top:241.8px;font-size:9.7px;color:#5dbf4a;">212</div>
<div class="lbl" style="left:1309.5px;width:200px;text-align:center;top:241.8px;font-size:9.7px;color:#f24d4d;">342</div>
<div class="lbl" style="left:1373.65px;width:200px;text-align:center;top:241.8px;font-size:9.7px;color:#43c6d8;">256</div>
<div class="lbl" style="left:1112.6px;width:200px;text-align:center;top:256.4px;font-size:9.7px;color:#fff;font-weight:bold">07-29</div>
<div class="lbl" style="left:1181.4px;width:200px;text-align:center;top:256.4px;font-size:9.7px;color:#f2a33a;">268</div>
<div class="lbl" style="left:1245.4px;width:200px;text-align:center;top:256.4px;font-size:9.7px;color:#5dbf4a;">212</div>
<div class="lbl" style="left:1309.5px;width:200px;text-align:center;top:256.4px;font-size:9.7px;color:#f24d4d;">342</div>
<div class="lbl" style="left:1373.65px;width:200px;text-align:center;top:256.4px;font-size:9.7px;color:#43c6d8;">256</div>
<div class="lbl" style="left:1112.6px;width:200px;text-align:center;top:270.9px;font-size:9.7px;color:#fff;font-weight:bold">07-28</div>
<div class="lbl" style="left:1181.4px;width:200px;text-align:center;top:270.9px;font-size:9.7px;color:#f2a33a;">268</div>
<div class="lbl" style="left:1245.4px;width:200px;text-align:center;top:270.9px;font-size:9.7px;color:#5dbf4a;">212</div>
<div class="lbl" style="left:1309.5px;width:200px;text-align:center;top:270.9px;font-size:9.7px;color:#f24d4d;">342</div>
<div class="lbl" style="left:1373.65px;width:200px;text-align:center;top:270.9px;font-size:9.7px;color:#43c6d8;">256</div>
<div class="lbl" style="left:1112.6px;width:200px;text-align:center;top:285.5px;font-size:9.7px;color:#fff;font-weight:bold">07-27</div>
<div class="lbl" style="left:1181.4px;width:200px;text-align:center;top:285.5px;font-size:9.7px;color:#f2a33a;">268</div>
<div class="lbl" style="left:1245.4px;width:200px;text-align:center;top:285.5px;font-size:9.7px;color:#5dbf4a;">212</div>
<div class="lbl" style="left:1309.5px;width:200px;text-align:center;top:285.5px;font-size:9.7px;color:#f24d4d;">342</div>
<div class="lbl" style="left:1373.65px;width:200px;text-align:center;top:285.5px;font-size:9.7px;color:#43c6d8;">256</div>
<div class="lbl" style="left:1112.6px;width:200px;text-align:center;top:300.1px;font-size:9.7px;color:#fff;font-weight:bold">07-26</div>
<div class="lbl" style="left:1181.4px;width:200px;text-align:center;top:300.1px;font-size:9.7px;color:#f2a33a;">268</div>
<div class="lbl" style="left:1245.4px;width:200px;text-align:center;top:300.1px;font-size:9.7px;color:#5dbf4a;">212</div>
<div class="lbl" style="left:1309.5px;width:200px;text-align:center;top:300.1px;font-size:9.7px;color:#f24d4d;">342</div>
<div class="lbl" style="left:1373.65px;width:200px;text-align:center;top:300.1px;font-size:9.7px;color:#43c6d8;">256</div>
<div class="lbl" style="left:1112.6px;width:200px;text-align:center;top:314.7px;font-size:9.7px;color:#fff;font-weight:bold">07-25</div>
<div class="lbl" style="left:1181.4px;width:200px;text-align:center;top:314.7px;font-size:9.7px;color:#f2a33a;">268</div>
<div class="lbl" style="left:1245.4px;width:200px;text-align:center;top:314.7px;font-size:9.7px;color:#5dbf4a;">212</div>
<div class="lbl" style="left:1309.5px;width:200px;text-align:center;top:314.7px;font-size:9.7px;color:#f24d4d;">342</div>
<div class="lbl" style="left:1373.65px;width:200px;text-align:center;top:314.7px;font-size:9.7px;color:#43c6d8;">256</div>
<div class="lbl" style="left:1112.6px;width:200px;text-align:center;top:329.3px;font-size:9.7px;color:#fff;font-weight:bold">07-24</div>
<div class="lbl" style="left:1181.4px;width:200px;text-align:center;top:329.3px;font-size:9.7px;color:#f2a33a;">268</div>
<div class="lbl" style="left:1245.4px;width:200px;text-align:center;top:329.3px;font-size:9.7px;color:#5dbf4a;">212</div>
<div class="lbl" style="left:1309.5px;width:200px;text-align:center;top:329.3px;font-size:9.7px;color:#f24d4d;">342</div>
<div class="lbl" style="left:1373.65px;width:200px;text-align:center;top:329.3px;font-size:9.7px;color:#43c6d8;">256</div>
<div class="lbl" style="left:1112.6px;width:200px;text-align:center;top:343.9px;font-size:9.7px;color:#fff;font-weight:bold">07-23</div>
<div class="lbl" style="left:1181.4px;width:200px;text-align:center;top:343.9px;font-size:9.7px;color:#f2a33a;">268</div>
<div class="lbl" style="left:1245.4px;width:200px;text-align:center;top:343.9px;font-size:9.7px;color:#5dbf4a;">212</div>
<div class="lbl" style="left:1309.5px;width:200px;text-align:center;top:343.9px;font-size:9.7px;color:#f24d4d;">342</div>
<div class="lbl" style="left:1373.65px;width:200px;text-align:center;top:343.9px;font-size:9.7px;color:#43c6d8;">256</div>
<div class="lbl" style="left:1112.6px;width:200px;text-align:center;top:358.5px;font-size:9.7px;color:#fff;font-weight:bold">07-22</div>
<div class="lbl" style="left:1181.4px;width:200px;text-align:center;top:358.5px;font-size:9.7px;color:#f2a33a;">268</div>
<div class="lbl" style="left:1245.4px;width:200px;text-align:center;top:358.5px;font-size:9.7px;color:#5dbf4a;">212</div>
<div class="lbl" style="left:1309.5px;width:200px;text-align:center;top:358.5px;font-size:9.7px;color:#f24d4d;">342</div>
<div class="lbl" style="left:1373.65px;width:200px;text-align:center;top:358.5px;font-size:9.7px;color:#43c6d8;">256</div>
<div class="lbl" style="left:1112.6px;width:200px;text-align:center;top:373.1px;font-size:9.7px;color:#fff;font-weight:bold">07-21</div>
<div class="lbl" style="left:1181.4px;width:200px;text-align:center;top:373.1px;font-size:9.7px;color:#f2a33a;">268</div>
<div class="lbl" style="left:1245.4px;width:200px;text-align:center;top:373.1px;font-size:9.7px;color:#5dbf4a;">212</div>
<div class="lbl" style="left:1309.5px;width:200px;text-align:center;top:373.1px;font-size:9.7px;color:#f24d4d;">342</div>
<div class="lbl" style="left:1373.65px;width:200px;text-align:center;top:373.1px;font-size:9.7px;color:#43c6d8;">256</div>
<div class="lbl" style="left:1112.6px;width:200px;text-align:center;top:387.7px;font-size:9.7px;color:#fff;font-weight:bold">07-20</div>
<div class="lbl" style="left:1181.4px;width:200px;text-align:center;top:387.7px;font-size:9.7px;color:#f2a33a;">268</div>
<div class="lbl" style="left:1245.4px;width:200px;text-align:center;top:387.7px;font-size:9.7px;color:#5dbf4a;">212</div>
<div class="lbl" style="left:1309.5px;width:200px;text-align:center;top:387.7px;font-size:9.7px;color:#f24d4d;">342</div>
<div class="lbl" style="left:1373.65px;width:200px;text-align:center;top:387.7px;font-size:9.7px;color:#43c6d8;">256</div>
<div class="lbl" style="left:1112.6px;width:200px;text-align:center;top:402.3px;font-size:9.7px;color:#fff;font-weight:bold">07-19</div>
<div class="lbl" style="left:1181.4px;width:200px;text-align:center;top:402.3px;font-size:9.7px;color:#f2a33a;">268</div>
<div class="lbl" style="left:1245.4px;width:200px;text-align:center;top:402.3px;font-size:9.7px;color:#5dbf4a;">212</div>
<div class="lbl" style="left:1309.5px;width:200px;text-align:center;top:402.3px;font-size:9.7px;color:#f24d4d;">342</div>
<div class="lbl" style="left:1373.65px;width:200px;text-align:center;top:402.3px;font-size:9.7px;color:#43c6d8;">256</div>
<div class="abs" style="left:1552px;top:83px;width:5px;height:715px;background:#fff"></div>
<div class="abs" style="left:0;top:798px;width:1557px;height:3px;background:#2b2f2e"></div>
<div class="abs" style="left:86px;top:798px;width:40px;height:3px;background:#c47a33"></div>
<div class="abs" style="left:127px;top:798px;width:39px;height:3px;background:#565b5b"></div>
</div></body></html>
